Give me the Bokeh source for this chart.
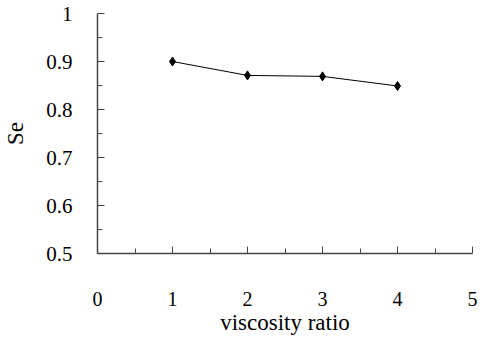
from bokeh.plotting import figure
from bokeh.models import FixedTicker, Range1d
from bokeh.embed import file_html
from bokeh.resources import INLINE

viscosity_ratio = [1, 2, 3, 4]
se_values = [0.900, 0.871, 0.869, 0.849]

x_ticks = [0, 1, 2, 3, 4, 5]
x_minor = [0.5, 1.5, 2.5, 3.5, 4.5]
y_ticks = [0.5, 0.6, 0.7, 0.8, 0.9, 1.0]
y_minor = [0.55, 0.65, 0.75, 0.85, 0.95]

FONT = "Liberation Serif"

p = figure(width=480, height=338, output_backend="svg", toolbar_location=None,
           x_range=Range1d(0, 5), y_range=Range1d(0.5, 1.0),
           min_border_left=97, min_border_right=8, min_border_top=13, min_border_bottom=85)
p.outline_line_color = None
p.grid.visible = False
p.background_fill_color = "white"
p.border_fill_color = "white"

p.line(viscosity_ratio, se_values, line_color="black", line_width=1)
p.scatter(viscosity_ratio, se_values, marker="diamond", size=9,
          fill_color="black", line_color="black")

for ax in (p.xaxis[0], p.yaxis[0]):
    ax.axis_line_color = "#444444"
    ax.axis_line_width = 1.5
    ax.major_tick_line_color = "#444444"
    ax.minor_tick_line_color = "#444444"
    ax.major_tick_in = 7
    ax.major_tick_out = 0
    ax.minor_tick_in = 5
    ax.minor_tick_out = 0
    ax.major_label_text_font = FONT
    ax.major_label_text_color = "black"
    ax.axis_label_text_font = FONT
    ax.axis_label_text_font_size = "23px"
    ax.axis_label_text_font_style = "normal"
    ax.axis_label_text_color = "black"

p.xaxis.major_label_text_font_size = "20px"
p.yaxis.major_label_text_font_size = "21px"
p.xaxis.ticker = FixedTicker(ticks=x_ticks, minor_ticks=x_minor)
p.yaxis.ticker = FixedTicker(ticks=y_ticks, minor_ticks=y_minor)
p.yaxis.major_label_overrides = {1: "1"}
p.xaxis.axis_label = "viscosity ratio"
p.yaxis.axis_label = "Se"
p.xaxis.major_label_standoff = 38
p.xaxis.axis_label_standoff = 1
p.yaxis.major_label_standoff = 25
p.yaxis.axis_label_standoff = 15

open("out.html", "w").write(file_html(p, INLINE))
